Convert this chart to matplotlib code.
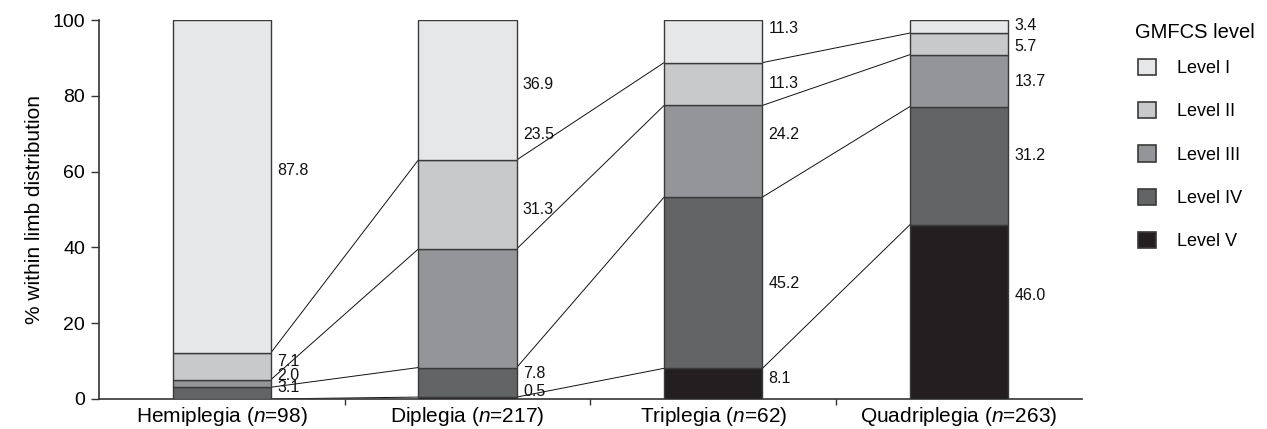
import matplotlib
matplotlib.use("Agg")
import matplotlib.pyplot as plt
from matplotlib.patches import Patch
import numpy as np

plt.rcParams['font.family'] = ['Liberation Sans', 'DejaVu Sans']
plt.rcParams['mathtext.fontset'] = 'custom'
plt.rcParams['mathtext.rm'] = 'Liberation Sans'
plt.rcParams['mathtext.it'] = 'Liberation Sans:italic'

categories = ["Hemiplegia", "Diplegia", "Triplegia", "Quadriplegia"]
n_values = [98, 217, 62, 263]
levels = ["Level I", "Level II", "Level III", "Level IV", "Level V"]
level_I = [87.8, 36.9, 11.3, 3.4]
level_II = [7.1, 23.5, 11.3, 5.7]
level_III = [2.0, 31.3, 24.2, 13.7]
level_IV = [3.1, 7.8, 45.2, 31.2]
level_V = [0.0, 0.5, 8.1, 46.0]

# label vertical placement (data units) for each level, per category
label_pos_I = [60.2, 83.1, 97.9, 98.7]
label_pos_II = [9.8, 69.7, 83.4, 93.1]
label_pos_III = [6.3, 50.1, 69.7, 83.9]
label_pos_IV = [2.9, 6.6, 30.6, 64.4]
label_pos_V = [None, 2.1, 5.5, 27.4]

colors = ["#e6e7e9", "#c8c9cb", "#939598", "#636466", "#231f20"]
edge = "#3a3a3a"

fig = plt.figure(figsize=(12.67, 4.29), dpi=100)
ax = fig.add_axes([0.078, 0.070, 0.776, 0.883])

x = np.arange(len(categories))
width = 0.40
# stacking order bottom-up: V, IV, III, II, I
stack = [level_V, level_IV, level_III, level_II, level_I]
stack_cols = colors[::-1]
stack_pos = [label_pos_V, label_pos_IV, label_pos_III, label_pos_II, label_pos_I]
bottom = np.zeros(len(categories))
tops = []
for vals, col, lp in zip(stack, stack_cols, stack_pos):
    vals = np.array(vals)
    ax.bar(x, vals, width, bottom=bottom, color=col, edgecolor=edge,
           linewidth=1.0, zorder=3)
    for i, v in enumerate(vals):
        if v > 0 and lp[i] is not None:
            ax.annotate(f"{v:.1f}", xy=(x[i] + width / 2, lp[i]),
                        xytext=(4.5, 0), textcoords="offset points",
                        ha="left", va="center", fontsize=11.5, color="#111111")
    bottom = bottom + vals
    tops.append(bottom.copy())

# connecting lines: top of cumulative segments (excluding the final 100 line)
cum_bottoms = [np.zeros(len(categories))] + tops[:-1]
for cb in cum_bottoms:
    for i in range(len(categories) - 1):
        ax.plot([x[i] + width / 2, x[i + 1] - width / 2], [cb[i], cb[i + 1]],
                color="#111111", linewidth=0.7, zorder=2)

ax.set_xlim(-0.5, 3.5)
ax.set_ylim(0, 100)
ax.set_yticks([0, 20, 40, 60, 80, 100])
ax.tick_params(axis="y", labelsize=14, length=6, width=1, color="#333333", pad=4)
ax.set_xticks(x)
ax.set_xticklabels([f"{c} ($\\mathit{{n}}$={n})" for c, n in zip(categories, n_values)],
                   fontsize=15)
ax.tick_params(axis="x", length=0, pad=4)
ax.set_xticks([0.5, 1.5, 2.5], minor=True)
ax.tick_params(axis="x", which="minor", length=4, width=1, color="#333333", direction="out")
for s in ["top", "right"]:
    ax.spines[s].set_visible(False)
for s in ["left", "bottom"]:
    ax.spines[s].set_color("#333333")
    ax.spines[s].set_linewidth(1.2)
ax.set_ylabel("% within limb distribution", fontsize=15, labelpad=6)

fig.text(1135 / 1267, 1 - 33 / 429, "GMFCS level", fontsize=14.5,
         ha="left", va="center")
handles = [Patch(facecolor=c, edgecolor=edge, linewidth=1.2) for c in colors]
leg = fig.legend(handles, levels, loc="upper left",
                 bbox_to_anchor=(1138 / 1267, 1 - 59 / 429),
                 frameon=False, fontsize=13,
                 handlelength=1.0, handleheight=1.0, handletextpad=1.15,
                 labelspacing=1.38, borderpad=0, borderaxespad=0)

fig.savefig("out.png", dpi=100)
